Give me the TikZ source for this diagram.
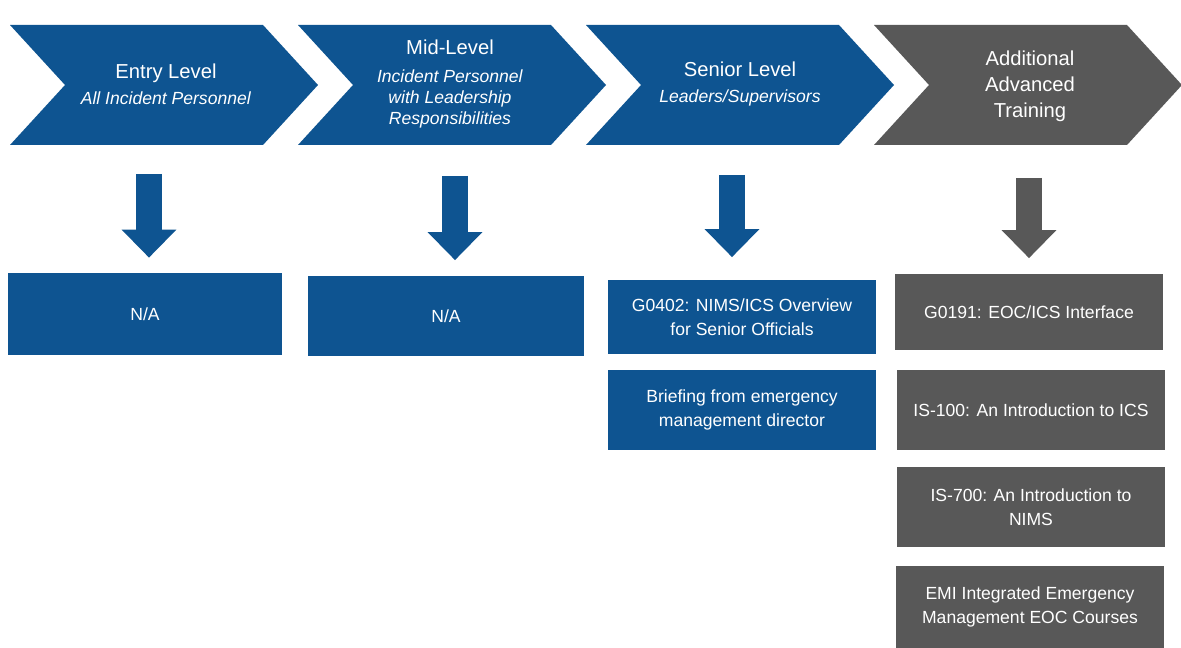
\documentclass[tikz,border=0pt]{standalone}
\usepackage{fontspec}
\setmainfont{Liberation Sans}
\usetikzlibrary{arrows.meta}
\definecolor{levelblue}{RGB}{14,84,145}
\definecolor{levelgray}{RGB}{88,88,88}
\begin{document}
\begin{tikzpicture}[x=0.02cm,y=-0.02cm]
\tikzstyle{level text}=[text=white,align=center,font=\fontsize{10}{12}\selectfont]
\tikzstyle{course box}=[rectangle,text=white,align=center,inner sep=0,minimum width=5.36cm,minimum height=1.6cm,font=\fontsize{10}{13.6}\selectfont]
\tikzset{
	blue box/.style={course box,fill=levelblue},
	gray box/.style={course box,fill=levelgray},
	blue arrow/.style={draw=levelblue,line width=0.52cm,shorten >=0.3cm,-{Triangle[length=0.56cm,width=1.06cm]}},
	gray arrow/.style={blue arrow,draw=levelgray}
}
\useasboundingbox (0,0) rectangle (1181,648);
\foreach \x/\c in {10/levelblue,298/levelblue,586/levelblue,874/levelgray}
	\fill[\c] (\x,25) -- (\x+253,25) -- (\x+308,85) -- (\x+253,145) -- (\x,145) -- (\x+55,85) -- cycle;
\node[level text] (entry) at (166,84) {{\fontsize{11.5}{14}\selectfont Entry Level}\\[3pt]\textit{All Incident Personnel}};
\node[level text] (mid) at (450,84) {{\fontsize{11.5}{14}\selectfont Mid-Level}\\[4pt]\textit{Incident Personnel}\\\textit{with Leadership}\\\textit{Responsibilities}};
\node[level text] (senior) at (740,84) {{\fontsize{11.5}{14}\selectfont Senior Level}\\[3pt]\textit{Leaders/Supervisors}};
\node[level text,font=\fontsize{11.5}{14.7}\selectfont] (advanced) at (1030,86) {Additional\\Advanced\\Training};
\node[blue box,minimum width=5.48cm,minimum height=1.64cm] (na1) at (145,314) {N/A};
\node[blue box,minimum width=5.54cm,minimum height=1.62cm] (na2) at (446,316) {N/A};
\node[blue box,minimum height=1.5cm] (g0402) at (742,317) {G0402: NIMS/ICS Overview\\for Senior Officials};
\node[blue box,minimum height=1.62cm] (briefing) at (742,410) {Briefing from emergency\\management director};
\node[gray box,minimum height=1.54cm] (g0191) at (1029,312) {G0191: EOC/ICS Interface};
\node[gray box] (is100) at (1031,410) {IS-100: An Introduction to ICS};
\node[gray box] (is700) at (1031,507) {IS-700: An Introduction to\\NIMS};
\node[gray box,minimum height=1.64cm] (emi) at (1030,607) {EMI Integrated Emergency\\Management EOC Courses};
\coordinate (a1) at (149,174);
\coordinate (a2) at (455,176);
\coordinate (a3) at (732,175);
\coordinate (a4) at (1029,178);
\draw[blue arrow] (a1) -- (a1 |- na1.north);
\draw[blue arrow] (a2) -- (a2 |- na2.north);
\draw[blue arrow,shorten >=0.44cm] (a3) -- (a3 |- g0402.north);
\draw[gray arrow] (a4) -- (a4 |- g0191.north);
\end{tikzpicture}
\end{document}
